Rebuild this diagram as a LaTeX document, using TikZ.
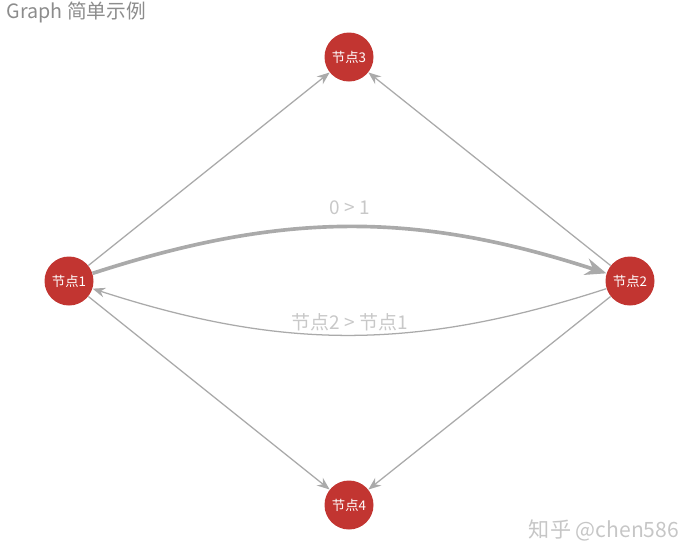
\documentclass[tikz,border=0pt]{standalone}
\usepackage{fontspec}
\setmainfont{Noto Sans CJK SC}
\usetikzlibrary{arrows.meta}
\usepackage{xcolor}
\definecolor{nodered}{HTML}{C23531}
\definecolor{edgegray}{HTML}{AAAAAA}
\definecolor{labelgray}{HTML}{C8C8C8}
\tikzset{
  gnode/.style={circle, fill=nodered, draw=none, minimum size=49*0.025cm,
    inner sep=0pt, text=white, font=\fontsize{9.5}{9.5}\selectfont},
  gedge/.style={draw=edgegray, line width=0.9pt,
    -{Stealth[length=9pt, width=7pt, inset=3pt]}},
  gthick/.style={draw=edgegray, line width=2.6pt,
    -{Stealth[length=15pt, width=12pt, inset=5pt]}},
  glabel/.style={text=labelgray, font=\fontsize{13.5}{13.5}\selectfont}
}

\begin{document}
\begin{tikzpicture}[x=0.025cm, y=-0.025cm]
\useasboundingbox (0,0) rectangle (700,560);

% ---- title ----
\node[anchor=west, text=gray!90, font=\fontsize{14}{14}\selectfont]
  (title) at (2,12) {Graph 简单示例};

% ---- the four nodes ----
\node[gnode] (n1) at (69,281) {节点1};
\node[gnode] (n2) at (630,281) {节点2};
\node[gnode] (n3) at (349,57) {节点3};
\node[gnode] (n4) at (349,505) {节点4};

% ---- straight edges ----
\draw[gedge] (n1) -- (n3);
\draw[gedge] (n2) -- (n3);
\draw[gedge] (n1) -- (n4);
\draw[gedge] (n2) -- (n4);

% ---- curved edges with labels ----
\draw[gthick] (n1) to[bend left=18] (n2);
\draw[gedge] (n2) to[bend left=18] (n1);
\node[glabel] (l12) at (350,208) {0 > 1};
\node[glabel] (l21) at (350,322) {节点2 > 节点1};

% ---- watermark ----
\node[anchor=east, text=gray!45, font=\fontsize{15}{15}\selectfont]
  (mark) at (684,530) {知乎 @chen586};

\end{tikzpicture}
\end{document}
